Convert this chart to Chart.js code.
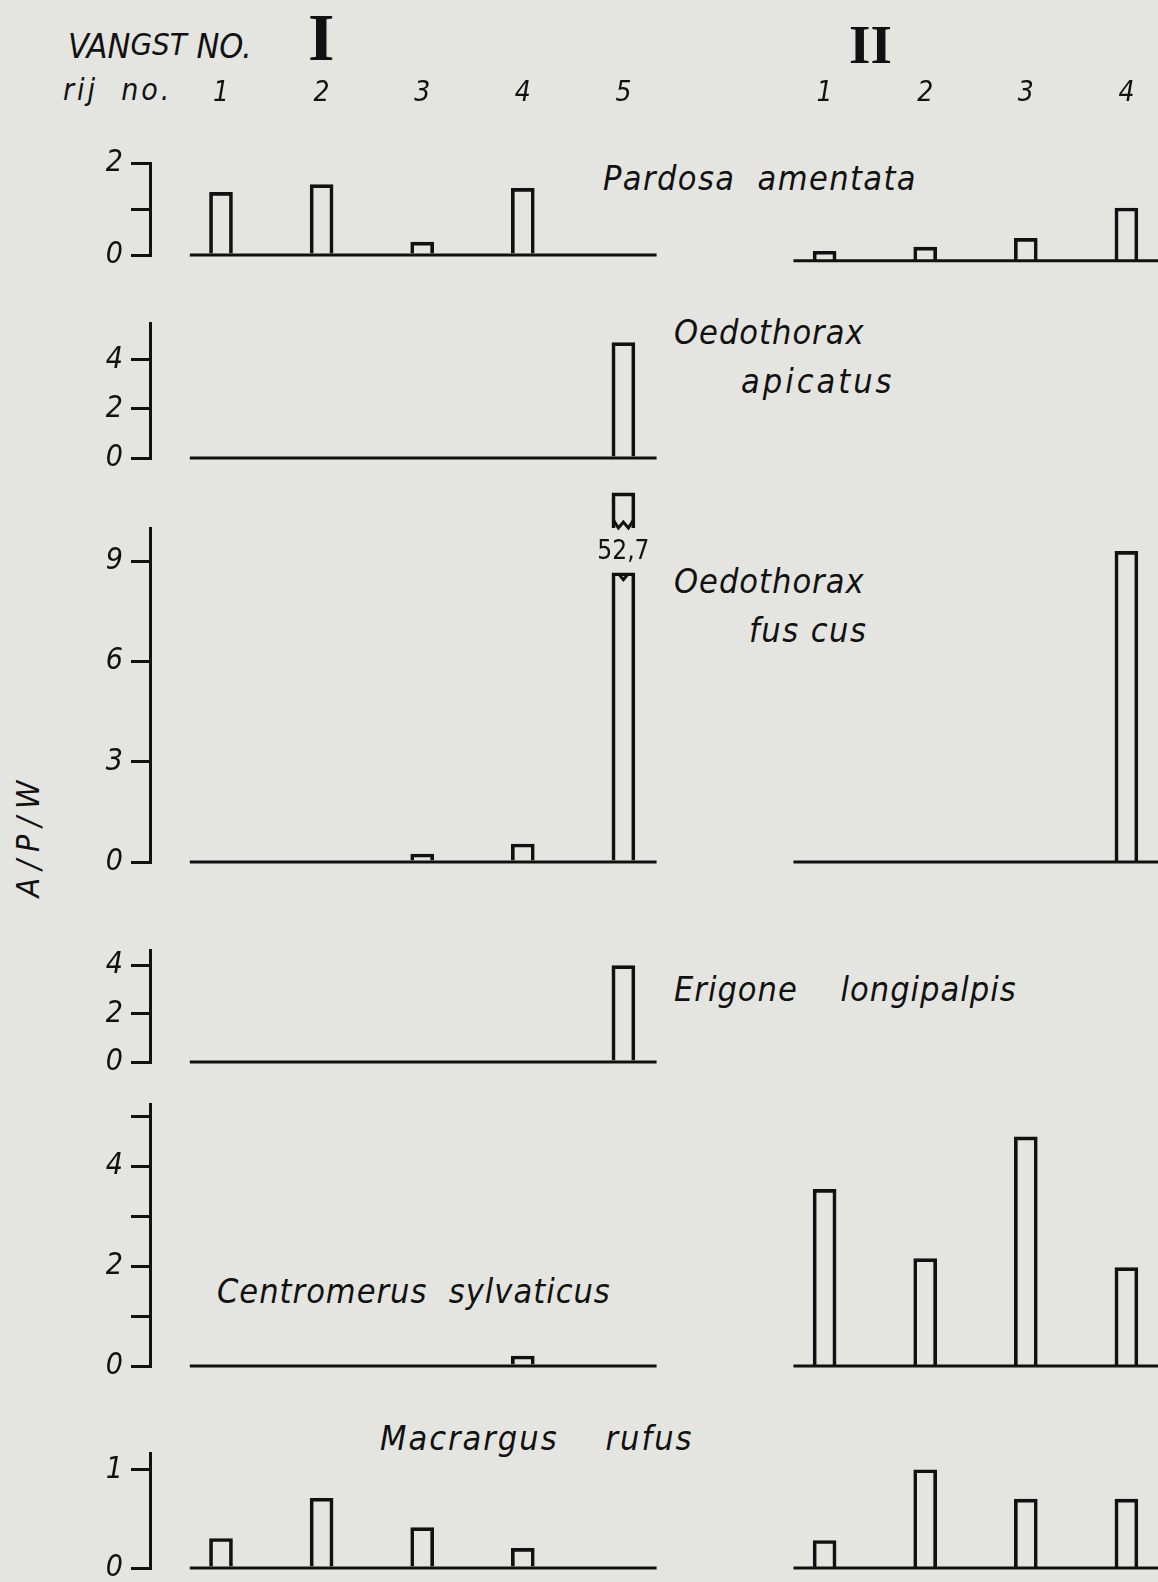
<!DOCTYPE html>
<html lang="nl">
<head>
<meta charset="UTF-8">
<title>A/P/W per rij - vangst I en II</title>
<script src="https://cdn.jsdelivr.net/npm/chart.js@4.4.1/dist/chart.umd.min.js"></script>
<style>
    body {
        margin: 0;
        width: 1158px;
        height: 1582px;
        overflow: hidden;
        position: relative;
        background: #e4e5e0;
        color: #111;
        font-family: 'DejaVu Sans Condensed', 'Liberation Sans Narrow', 'DejaVu Sans', sans-serif;
    }
    canvas { position: absolute; left: 0; }
    .txt {
        position: absolute;
        font-style: italic;
        font-size: 34px;
        line-height: 1;
        letter-spacing: 1px;
        white-space: pre;
    }
    .roman {
        position: absolute;
        font-family: 'Liberation Serif', 'DejaVu Serif', serif;
        font-weight: bold;
        line-height: 1;
    }
    .ylab {
        position: absolute;
        left: 28px;
        top: 835px;
        font-size: 32px;
        font-style: italic;
        letter-spacing: 8px;
        white-space: pre;
        transform: translate(-50%, -50%) rotate(-90deg);
    }
</style>
</head>
<body>
    <div class="txt" style="left:68px; top:29px; letter-spacing:0;">VAN<span style="font-size:31px; position:relative; top:-3px;">GST</span> NO.</div>
    <div class="txt" style="left:63px; top:75px; font-size:30px; letter-spacing:3px;">rij  no.</div>
    <div class="roman" style="left:308px; top:3px; font-size:68px;">I</div>
    <div class="roman" style="left:849px; top:17px; font-size:55px;">II</div>
    <div class="ylab">A/P/W</div>

    <div class="txt" style="left:603px; top:161px; letter-spacing:1.4px;">Pardosa  amentata</div>
    <div class="txt" style="left:674px; top:315px;">Oedothorax</div>
    <div class="txt" style="left:741px; top:364px; letter-spacing:3px;">apicatus</div>
    <div class="txt" style="left:674px; top:564px;">Oedothorax</div>
    <div class="txt" style="left:749px; top:613px; letter-spacing:1.5px;">fus cus</div>
    <div class="txt" style="left:674px; top:972px;">Erigone    longipalpis</div>
    <div class="txt" style="left:217px; top:1274px;">Centromerus  sylvaticus</div>
    <div class="txt" style="left:380px; top:1421px; letter-spacing:2px;">Macrargus    rufus</div>

    <canvas id="cPardosa"></canvas>
    <canvas id="cApicatus"></canvas>
    <canvas id="cFuscus"></canvas>
    <canvas id="cErigone"></canvas>
    <canvas id="cCentromerus"></canvas>
    <canvas id="cMacrargus"></canvas>

<script>
    // rij nummers per vangst
    const rowsI = ['1', '2', '3', '4', '5'];
    const rowsII = ['1', '2', '3', '4'];

    // A/P/W per rij (vangst I en vangst II)
    const pardosaI = [1.36, 1.53, 0.28, 1.45, 0];
    const pardosaII = [0.21, 0.30, 0.49, 1.15];
    const apicatusI = [0, 0, 0, 0, 4.7];
    const fuscusI = [0, 0, 0.24, 0.54, 52.7];
    const fuscusII = [0, 0, 0, 9.3];
    const erigoneI = [0, 0, 0, 0, 4.0];
    const centromerusI = [0, 0, 0, 0.2, 0];
    const centromerusII = [3.54, 2.15, 4.59, 1.97];
    const macrargusI = [0.30, 0.71, 0.41, 0.20, 0];
    const macrargusII = [0.28, 1.0, 0.70, 0.70];

    // y-as ticks en labels
    const pardosaTicks = [0, 1, 2];
    const pardosaTickLabels = ['0', '', '2'];
    const apicatusTicks = [0, 1, 2, 3, 4, 5];
    const apicatusTickLabels = ['0', '', '2', '', '4', ''];
    const fuscusTicks = [0, 3, 6, 9];
    const fuscusTickLabels = ['0', '3', '6', '9'];
    const erigoneTicks = [0, 1, 2, 3, 4];
    const erigoneTickLabels = ['0', '', '2', '', '4'];
    const centromerusTicks = [0, 1, 2, 3, 4, 5];
    const centromerusTickLabels = ['0', '', '2', '', '4', ''];
    const macrargusTicks = [0, 1];
    const macrargusTickLabels = ['0', '1'];

    const INK = '#111';
    const FONT = "'DejaVu Sans Condensed', 'Liberation Sans Narrow', 'DejaVu Sans', sans-serif";
    const W = 1158;
    const AXIS_PX = 150;       // y-as positie
    const FIRST_PX = 221;      // rij 1 van vangst I
    const STEP_PX = 100.6;     // afstand tussen rijen
    const xMin = 1 - (FIRST_PX - AXIS_PX) / STEP_PX;
    const xMax = 1 + (W - FIRST_PX) / STEP_PX;

    Chart.defaults.font.family = FONT;
    Chart.defaults.color = INK;

    function xOfI(i) { return i + 1; }
    function xOfII(i) { return rowsI.length + 2 + i; }

    const breakMarks = {
        id: 'breakMarks',
        afterDatasetsDraw(chart, args, opts) {
            if (!opts.items) return;
            const { ctx, scales: { x, y } } = chart;
            opts.items.forEach(it => {
                const px = x.getPixelForValue(it.x);
                const yLow = y.getPixelForValue(it.breakAt);
                const yHigh = y.getPixelForValue(it.capFrom);
                const h = 10;
                ctx.save();
                ctx.strokeStyle = INK;
                ctx.lineWidth = 3;
                ctx.beginPath();
                ctx.moveTo(px - h, yHigh - 8);
                ctx.lineTo(px - 5, yHigh);
                ctx.lineTo(px, yHigh - 6);
                ctx.lineTo(px + 5, yHigh);
                ctx.lineTo(px + h, yHigh - 8);
                ctx.stroke();
                ctx.beginPath();
                ctx.moveTo(px - 5, yLow + 1);
                ctx.lineTo(px, yLow + 7);
                ctx.lineTo(px + 5, yLow + 1);
                ctx.stroke();
                ctx.fillStyle = INK;
                ctx.font = '26px ' + FONT;
                ctx.textAlign = 'center';
                ctx.textBaseline = 'middle';
                ctx.fillText(it.text, px, (yLow + yHigh) / 2 + 2);
                ctx.restore();
            });
        }
    };

    function barSet(points, axis) {
        return {
            type: 'bar',
            data: points,
            yAxisID: axis,
            grouped: false,
            barThickness: 23,
            borderWidth: 3,
            borderColor: INK,
            backgroundColor: 'rgba(0,0,0,0)',
            borderSkipped: 'start',
            clip: false
        };
    }

    function baseLine(from, to, axis) {
        return {
            type: 'line',
            data: [{ x: from, y: 0 }, { x: to, y: 0 }],
            yAxisID: axis,
            borderColor: INK,
            borderWidth: 3,
            pointRadius: 0,
            clip: false
        };
    }

    function makePanel(id, p) {
        const head = !!p.head;
        const headH = head ? p.topPx - 60 : 0;
        const padTop = head ? 0 : (p.padTop || 30);
        const padBottom = 24;
        const canvas = document.getElementById(id);
        canvas.width = W;
        canvas.height = (p.zeroPx - p.topPx) + headH + padTop + padBottom;
        canvas.style.top = (p.topPx - headH - padTop) + 'px';

        const perUnit = (p.zeroPx - p.topPx) / p.yMax;
        const drop = (p.dropII || 0) / perUnit;
        const datasets = [];
        const items = [];

        const pointsI = [];
        p.valuesI.forEach((v, i) => {
            if (!v) return;
            if (v > p.yMax) {
                pointsI.push({ x: xOfI(i), y: p.breakAt });
                datasets.push(barSet([{ x: xOfI(i), y: [p.capFrom, p.capTo] }], 'y'));
                items.push({ x: xOfI(i), breakAt: p.breakAt, capFrom: p.capFrom, text: String(v).replace('.', ',') });
            } else {
                pointsI.push({ x: xOfI(i), y: v });
            }
        });
        datasets.push(barSet(pointsI, 'y'));
        datasets.push(baseLine(xOfI(0) - 0.31, xOfI(rowsI.length - 1) + 0.33, 'y'));

        if (p.valuesII) {
            const pointsII = [];
            p.valuesII.forEach((v, i) => { if (v) pointsII.push({ x: xOfII(i), y: v }); });
            datasets.push(barSet(pointsII, 'yII'));
            datasets.push(baseLine(xOfII(0) - 0.31, xMax + 0.5, 'yII'));
        }

        const headLabels = {};
        rowsI.forEach((r, i) => { headLabels[xOfI(i)] = r; });
        rowsII.forEach((r, i) => { headLabels[xOfII(i)] = r; });

        return new Chart(canvas, {
            type: 'bar',
            data: { datasets },
            options: {
                responsive: false,
                animation: false,
                devicePixelRatio: 1,
                layout: { padding: { top: padTop, bottom: padBottom, left: 0, right: 0 } },
                plugins: {
                    legend: { display: false },
                    tooltip: { enabled: false },
                    breakMarks: { items }
                },
                scales: {
                    x: {
                        type: 'linear',
                        offset: false,
                        min: xMin,
                        max: xMax,
                        display: head,
                        position: 'top',
                        // tick marks verborgen; tickLength geeft de afstand tot de rijnummers
                        grid: { display: false, drawTicks: true, tickLength: 52, offset: false },
                        border: { display: false },
                        afterBuildTicks: s => { s.ticks = Object.keys(headLabels).map(v => ({ value: +v })); },
                        afterFit: s => { s.height = headH; },
                        ticks: {
                            autoSkip: false,
                            maxRotation: 0,
                            padding: 0,
                            font: { size: 28, style: 'italic' },
                            callback: v => headLabels[v] || ''
                        }
                    },
                    y: {
                        min: 0,
                        max: p.yMax,
                        afterFit: s => { s.width = AXIS_PX; },
                        afterBuildTicks: s => { s.ticks = p.ticks.map(v => ({ value: v })); },
                        grid: { drawOnChartArea: false, tickLength: 19, lineWidth: 3, color: INK },
                        border: { color: INK, width: 3 },
                        ticks: {
                            padding: 8,
                            font: { size: 30, style: 'italic' },
                            callback: (v, i) => p.tickLabels[i]
                        }
                    },
                    yII: {
                        display: false,
                        min: drop,
                        max: p.yMax + drop
                    }
                }
            },
            plugins: [breakMarks]
        });
    }

    makePanel('cPardosa', {
        head: true, zeroPx: 257, topPx: 163, yMax: 2, dropII: 6,
        valuesI: pardosaI, valuesII: pardosaII,
        ticks: pardosaTicks, tickLabels: pardosaTickLabels
    });
    makePanel('cApicatus', {
        zeroPx: 460, topPx: 322.5, yMax: 5.5,
        valuesI: apicatusI, valuesII: null,
        ticks: apicatusTicks, tickLabels: apicatusTickLabels
    });
    makePanel('cFuscus', {
        zeroPx: 864, topPx: 528, yMax: 10, padTop: 50,
        breakAt: 8.66, capFrom: 10.0, capTo: 11.05,
        valuesI: fuscusI, valuesII: fuscusII,
        ticks: fuscusTicks, tickLabels: fuscusTickLabels
    });
    makePanel('cErigone', {
        zeroPx: 1064, topPx: 950, yMax: 4.65,
        valuesI: erigoneI, valuesII: null,
        ticks: erigoneTicks, tickLabels: erigoneTickLabels
    });
    makePanel('cCentromerus', {
        zeroPx: 1368, topPx: 1104, yMax: 5.25,
        valuesI: centromerusI, valuesII: centromerusII,
        ticks: centromerusTicks, tickLabels: centromerusTickLabels
    });
    makePanel('cMacrargus', {
        zeroPx: 1570, topPx: 1453, yMax: 1.17,
        valuesI: macrargusI, valuesII: macrargusII,
        ticks: macrargusTicks, tickLabels: macrargusTickLabels
    });
</script>
</body>
</html>
